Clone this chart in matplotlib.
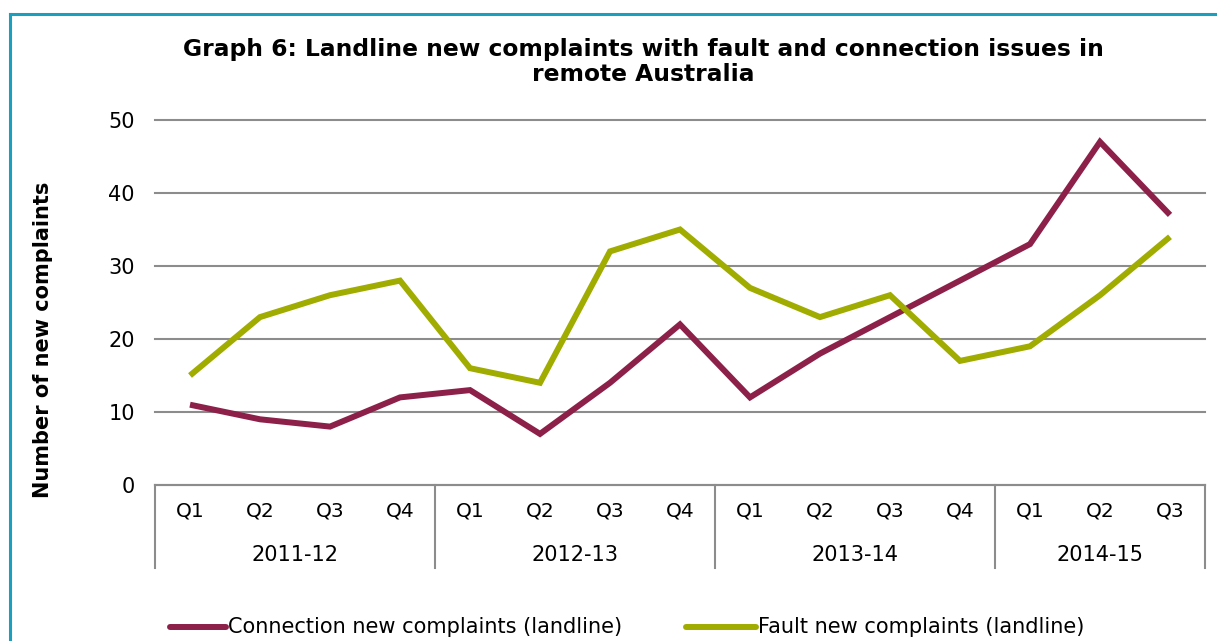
import matplotlib
matplotlib.use("Agg")
import matplotlib.pyplot as plt
from matplotlib.lines import Line2D
import matplotlib.transforms as mtransforms
import numpy as np

plt.rcParams['font.family'] = ['DejaVu Sans']

years = ["2011-12", "2012-13", "2013-14", "2014-15"]
quarters_per_year = [4, 4, 4, 3]
quarter_labels = ["Q1", "Q2", "Q3", "Q4", "Q1", "Q2", "Q3", "Q4",
                  "Q1", "Q2", "Q3", "Q4", "Q1", "Q2", "Q3"]
connection = [11, 9, 8, 12, 13, 7, 14, 22, 12, 18, 23, 28, 33, 47, 37]
fault = [15, 23, 26, 28, 16, 14, 32, 35, 27, 23, 26, 17, 19, 26, 34]

c_conn = "#8c2049"
c_fault = "#a0ac00"
grid_c = "#8c8c8c"

fig = plt.figure(figsize=(12.17, 6.41), dpi=100)
W, H = 1217, 641
ax = fig.add_axes([155 / W, 1 - 485 / H, (1205 - 155) / W, (485 - 120) / H])

x = np.arange(len(quarter_labels))
ax.plot(x, connection, color=c_conn, lw=4.3, solid_joinstyle='miter', solid_capstyle='butt')
ax.plot(x, fault, color=c_fault, lw=4.3, solid_joinstyle='miter', solid_capstyle='butt')

ax.set_xlim(-0.5, len(x) - 0.5)
ax.set_ylim(0, 50)
ax.set_yticks(range(0, 51, 10))
ax.yaxis.grid(True, color=grid_c, lw=1.5)
for gl in ax.get_ygridlines():
    gl.set_clip_on(False)
ax.set_axisbelow(True)
for s in ["top", "right", "left"]:
    ax.spines[s].set_visible(False)
ax.spines["bottom"].set_color(grid_c)
ax.spines["bottom"].set_linewidth(1.5)
ax.tick_params(axis='y', length=0, pad=14.5, labelsize=15, colors='#000000')
ax.set_xticks(x)
ax.set_xticklabels(quarter_labels)
ax.tick_params(axis='x', length=0, pad=12, labelsize=14.5)

# group separators and year labels
trans = mtransforms.blended_transform_factory(ax.transData, ax.transAxes)
bounds = np.concatenate([[0], np.cumsum(quarters_per_year)]) - 0.5
for b in bounds:
    ax.plot([b, b], [0, -83 / 365], color=grid_c, lw=1.5, transform=trans, clip_on=False)
for i, yr in enumerate(years):
    mid = (bounds[i] + bounds[i + 1]) / 2
    ax.text(mid, -70 / 365, yr, transform=trans, ha='center', va='center', fontsize=15)

fig.text(43 / W, 1 - 340 / H, "Number of new complaints", rotation=90, ha='center',
         va='center', fontsize=15, fontweight='bold')

fig.text(643 / W, 1 - 62 / H,
         "Graph 6: Landline new complaints with fault and connection issues in\nremote Australia",
         ha='center', va='center', fontsize=16.8, fontweight='bold', linespacing=1.1)

# legend
ly = 1 - 627 / H
fig.add_artist(Line2D([170 / W, 226 / W], [ly, ly], color=c_conn, lw=4.3, solid_capstyle='round'))
fig.text(228 / W, ly, "Connection new complaints (landline)", ha='left', va='center', fontsize=15)
fig.add_artist(Line2D([686 / W, 756 / W], [ly, ly], color=c_fault, lw=4.3, solid_capstyle='round'))
fig.text(758 / W, ly, "Fault new complaints (landline)", ha='left', va='center', fontsize=15)

# frame border (left and top)
fig.add_artist(Line2D([10 / W, 10 / W], [0, 1 - 14 / H], color="#1a9fbf", lw=2.2))
fig.add_artist(Line2D([10 / W, 1], [1 - 14 / H, 1 - 14 / H], color="#1a9fbf", lw=2.2))

fig.savefig("out.png", dpi=100)
